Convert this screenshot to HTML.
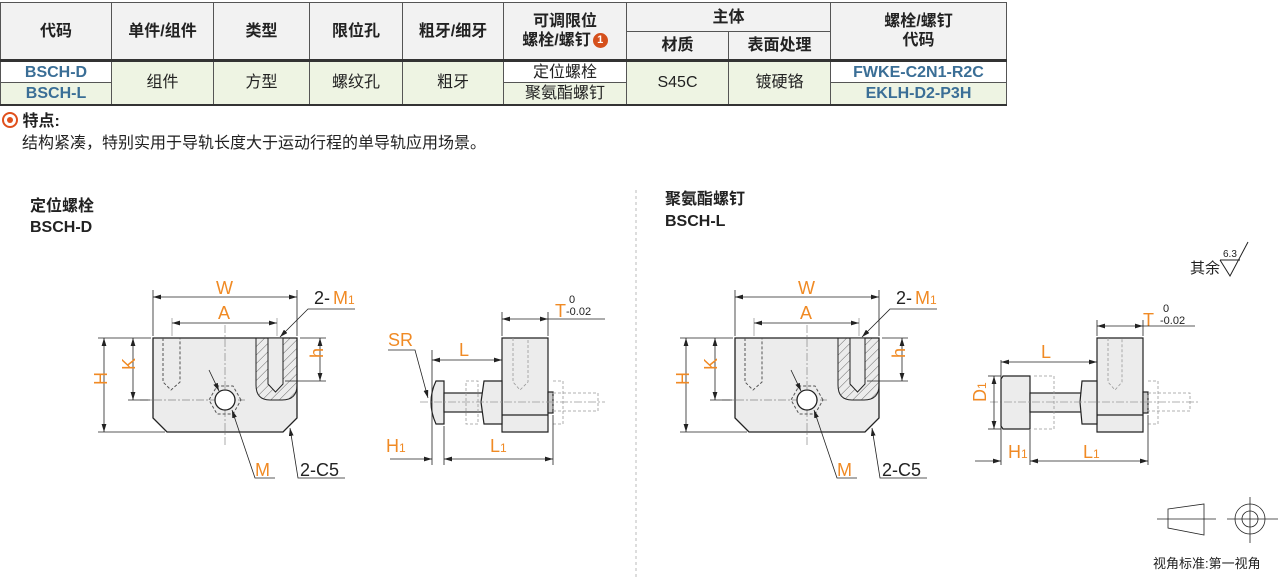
<!DOCTYPE html>
<html><head><meta charset="utf-8"><style>
body{margin:0;width:1280px;height:585px;background:#fff;overflow:hidden;font-family:"Liberation Sans","Noto Sans CJK SC",sans-serif;position:relative}
table{position:absolute;left:0;top:2px;border-collapse:collapse;width:1007px;font-size:16px;color:#222}
td{border:1px solid #555;text-align:center;padding:0;line-height:19px}
.h td{background:#f2f2f2;font-weight:bold}
.b{color:#3a6e96;font-weight:bold}
.g{background:#eef4e3}
.t{position:absolute;font-size:16px;color:#222;line-height:20px}
</style></head><body>
<table>
<tr class="h" style="height:29px"><td rowspan="2" style="width:110px">代码</td><td rowspan="2" style="width:101px">单件/组件</td><td rowspan="2" style="width:95px">类型</td><td rowspan="2" style="width:92px">限位孔</td><td rowspan="2" style="width:100px">粗牙/细牙</td><td rowspan="2" style="width:122px">可调限位<br>螺栓/螺钉<span style="display:inline-block;width:15px;height:15px;border-radius:50%;background:#d5501c;color:#fff;font-size:11px;line-height:15px;vertical-align:middle;margin-left:2px">1</span></td><td colspan="2">主体</td><td rowspan="2">螺栓/螺钉<br>代码</td></tr>
<tr class="h" style="height:29px"><td style="width:101px">材质</td><td style="width:101px">表面处理</td></tr>
<tr style="height:22px;border-top:3px solid #333"><td class="b">BSCH-D</td><td rowspan="2" class="g">组件</td><td rowspan="2" class="g">方型</td><td rowspan="2" class="g">螺纹孔</td><td rowspan="2" class="g">粗牙</td><td>定位螺栓</td><td rowspan="2" class="g">S45C</td><td rowspan="2" class="g">镀硬铬</td><td class="b">FWKE-C2N1-R2C</td></tr>
<tr style="height:22px;border-bottom:2px solid #333"><td class="b g">BSCH-L</td><td class="g">聚氨酯螺钉</td><td class="b g">EKLH-D2-P3H</td></tr>
</table>
<div class="t" style="left:2px;top:112px;font-weight:bold"><span style="display:inline-block;width:12px;height:12px;border:2px solid #e0501c;border-radius:50%;vertical-align:-2px;position:relative"><span style="position:absolute;left:3px;top:3px;width:6px;height:6px;background:#e0501c;border-radius:50%"></span></span> 特点:</div>
<div class="t" style="left:22px;top:134px">结构紧凑，特别实用于导轨长度大于运动行程的单导轨应用场景。</div>
<div class="t" style="left:30px;top:197px;font-weight:bold">定位螺栓</div>
<div class="t b" style="left:30px;top:218px">BSCH-D</div>
<div class="t" style="left:665px;top:190px;font-weight:bold">聚氨酯螺钉</div>
<div class="t b" style="left:665px;top:212px">BSCH-L</div>
<svg width="1280" height="585" style="position:absolute;left:0;top:0" font-family="Liberation Sans,Noto Sans CJK SC,sans-serif">
<defs>
<marker id="a" viewBox="0 0 10 6" refX="10" refY="3" markerWidth="10" markerHeight="6" orient="auto-start-reverse"><path d="M0,0L10,3L0,6z" fill="#222"/></marker>
<pattern id="hp" width="6" height="6" patternUnits="userSpaceOnUse" patternTransform="rotate(45)"><line x1="0" y1="0" x2="0" y2="6" stroke="#444" stroke-width="0.8"/></pattern>
<g id="front">
<path d="M153,338H297V418L283,432H167L153,418Z" fill="#ececec" stroke="#222" stroke-width="1.3"/>
<path d="M256,338H297V385Q297,400 282,400H270Q256,400 256,385Z" fill="url(#hp)" stroke="#222"/>
<path d="M268,338V384L275.5,392L283,384V338Z" fill="#ececec" stroke="#222"/>
<path d="M163,338V382L171,390L180,382V338" fill="none" stroke="#555" stroke-dasharray="3,2"/>
<line x1="225" y1="325" x2="225" y2="445" stroke="#888" stroke-dasharray="8,2,2,2" stroke-width="0.7"/>
<line x1="140" y1="400" x2="245" y2="400" stroke="#888" stroke-dasharray="8,2,2,2" stroke-width="0.7"/>
<circle cx="225" cy="400" r="10" fill="#fff" stroke="#222" stroke-width="1.3"/>
<polygon points="241,400 233,386 217,386 209,400 217,414 233,414" fill="none" stroke="#555" stroke-dasharray="3,2"/>
<g stroke="#222" fill="none" stroke-width="0.8">
<line x1="153" y1="290" x2="153" y2="336"/><line x1="297" y1="290" x2="297" y2="336"/>
<line x1="153" y1="297" x2="297" y2="297" marker-start="url(#a)" marker-end="url(#a)"/>
<line x1="172" y1="318" x2="172" y2="336" stroke="#999"/><line x1="277" y1="318" x2="277" y2="336" stroke="#999"/>
<line x1="172" y1="323" x2="277" y2="323" marker-start="url(#a)" marker-end="url(#a)"/>
<line x1="98" y1="338" x2="151" y2="338"/><line x1="98" y1="432" x2="165" y2="432"/>
<line x1="104" y1="338" x2="104" y2="432" marker-start="url(#a)" marker-end="url(#a)"/>
<line x1="128" y1="400" x2="150" y2="400"/>
<line x1="133" y1="338" x2="133" y2="400" marker-start="url(#a)" marker-end="url(#a)"/>
<line x1="300" y1="338" x2="326" y2="338"/><line x1="285" y1="381" x2="326" y2="381"/>
<line x1="320" y1="338" x2="320" y2="381" marker-start="url(#a)" marker-end="url(#a)"/>
<polyline points="355,309 308,309 280,337" marker-end="url(#a)"/>
<polyline points="275,478 255,478 232,410" marker-end="url(#a)"/>
<line x1="209" y1="370" x2="219" y2="391" marker-end="url(#a)"/>
<polyline points="345,478 298,478 290,428" marker-end="url(#a)"/>
</g>
<g font-size="18" fill="#f08a24">
<text x="216" y="294">W</text><text x="218" y="319">A</text>
<text x="100" y="392" transform="rotate(-90 100 385)">H</text>
<text x="129" y="376" transform="rotate(-90 129 370)">K</text>
<text x="317" y="364" transform="rotate(-90 317 358)">h</text>
<text x="255" y="476">M</text>
<text x="333" y="304">M<tspan font-size="12">1</tspan></text>
</g>
<text x="314" y="304" font-size="18" fill="#222">2-</text>
<text x="300" y="476" font-size="18" fill="#222">2-C5</text>
</g>
</defs>
<use href="#front"/>
<use href="#front" x="582"/>
<g stroke="#222" stroke-width="1.2" fill="#ececec">
<path d="M502,338H548V432H502Z"/><line x1="502" y1="415" x2="548" y2="415"/>
<path d="M444,381H436Q426,402 436,424H444Z"/>
<rect x="444" y="393" width="41" height="19"/>
<path d="M484,381H502V424H484L481,402Z"/>
<rect x="548" y="392" width="5" height="21" fill="#ccc"/>
</g>
<g stroke="#999" stroke-width="0.8" fill="none" stroke-dasharray="3,2">
<rect x="553" y="393" width="45" height="18"/><path d="M466,381h12v43h-12z"/><path d="M553,381h10v43h-10"/>
<path d="M513,338V382L520,390L528,382V338"/>
</g>
<g stroke="#222" stroke-width="0.8" fill="none">
<line x1="420" y1="402" x2="605" y2="402" stroke="#999" stroke-dasharray="8,2,2,2"/>
<line x1="432" y1="350" x2="432" y2="465"/><line x1="444" y1="426" x2="444" y2="465"/><line x1="553" y1="415" x2="553" y2="465"/>
<line x1="432" y1="360" x2="502" y2="360" marker-start="url(#a)" marker-end="url(#a)"/>
<line x1="390" y1="459" x2="432" y2="459" marker-end="url(#a)"/>
<line x1="444" y1="459" x2="553" y2="459" marker-start="url(#a)" marker-end="url(#a)"/>
<line x1="502" y1="312" x2="502" y2="336"/><line x1="548" y1="312" x2="548" y2="336"/>
<line x1="502" y1="319" x2="548" y2="319" marker-start="url(#a)" marker-end="url(#a)"/>
<line x1="548" y1="319" x2="605" y2="319"/>
<polyline points="388,350 415,350 428,398" marker-end="url(#a)"/>
</g>
<g font-size="18" fill="#f08a24"><text x="388" y="346">SR</text><text x="459" y="356">L</text><text x="386" y="452">H<tspan font-size="12">1</tspan></text><text x="490" y="452">L<tspan font-size="12">1</tspan></text><text x="555" y="317">T</text><text x="1143" y="326">T</text></g>
<g font-size="11" fill="#222"><text x="569" y="303">0</text><text x="566" y="315">-0.02</text><text x="1163" y="312">0</text><text x="1160" y="324">-0.02</text></g>
<g stroke="#222" stroke-width="1.2" fill="#ececec">
<path d="M1097,338H1143V432H1097Z"/><line x1="1097" y1="415" x2="1143" y2="415"/>
<path d="M1003,376H1030V429H1003L1001,426V379Z"/>
<rect x="1030" y="393" width="52" height="19"/>
<path d="M1082,381H1097V424H1082L1080,402Z"/>
<rect x="1143" y="392" width="5" height="21" fill="#ccc"/>
</g>
<g stroke="#999" stroke-width="0.8" fill="none" stroke-dasharray="3,2">
<rect x="1148" y="393" width="42" height="18"/><path d="M1034,376h20v53h-20"/><path d="M1148,381h10v43h-10"/>
<path d="M1108,338V382L1115,390L1122,382V338"/>
</g>
<g stroke="#222" stroke-width="0.8" fill="none">
<line x1="990" y1="402" x2="1200" y2="402" stroke="#999" stroke-dasharray="8,2,2,2"/>
<line x1="1001" y1="360" x2="1001" y2="465"/><line x1="1030" y1="430" x2="1030" y2="465"/><line x1="1148" y1="415" x2="1148" y2="465"/>
<line x1="1001" y1="362" x2="1097" y2="362" marker-start="url(#a)" marker-end="url(#a)"/>
<line x1="975" y1="461" x2="1001" y2="461" marker-end="url(#a)"/>
<line x1="1030" y1="461" x2="1148" y2="461" marker-start="url(#a)" marker-end="url(#a)"/>
<line x1="988" y1="376" x2="1001" y2="376"/><line x1="988" y1="429" x2="1001" y2="429"/>
<line x1="994" y1="376" x2="994" y2="429" marker-start="url(#a)" marker-end="url(#a)"/>
<line x1="1097" y1="320" x2="1097" y2="336"/><line x1="1143" y1="320" x2="1143" y2="336"/>
<line x1="1097" y1="326" x2="1143" y2="326" marker-start="url(#a)" marker-end="url(#a)"/>
<line x1="1143" y1="326" x2="1195" y2="326"/>
</g>
<g font-size="18" fill="#f08a24"><text x="1041" y="358">L</text><text x="1008" y="458">H<tspan font-size="12">1</tspan></text><text x="1083" y="458">L<tspan font-size="12">1</tspan></text>
<text x="978" y="410" transform="rotate(-90 978 402)">D<tspan font-size="12">1</tspan></text></g>
<line x1="636" y1="190" x2="636" y2="580" stroke="#bbb" stroke-dasharray="3,3"/>
<text x="1190" y="273" font-size="15" fill="#222">其余</text>
<polyline points="1220,260 1230,276 1248,242" fill="none" stroke="#222"/><line x1="1220" y1="260" x2="1240" y2="260" stroke="#222"/>
<text x="1223" y="257" font-size="10" fill="#222">6.3</text>
<g stroke="#222" fill="none" stroke-width="0.8">
<path d="M1168,509L1204,504V535L1168,528Z"/><line x1="1157" y1="519" x2="1216" y2="519"/>
<circle cx="1250" cy="519" r="15"/><circle cx="1250" cy="519" r="8"/>
<line x1="1227" y1="519" x2="1278" y2="519"/><line x1="1250" y1="497" x2="1250" y2="543"/>
</g>
<text x="1153" y="568" font-size="13" fill="#222">视角标准:第一视角</text>
</svg>
</body></html>
